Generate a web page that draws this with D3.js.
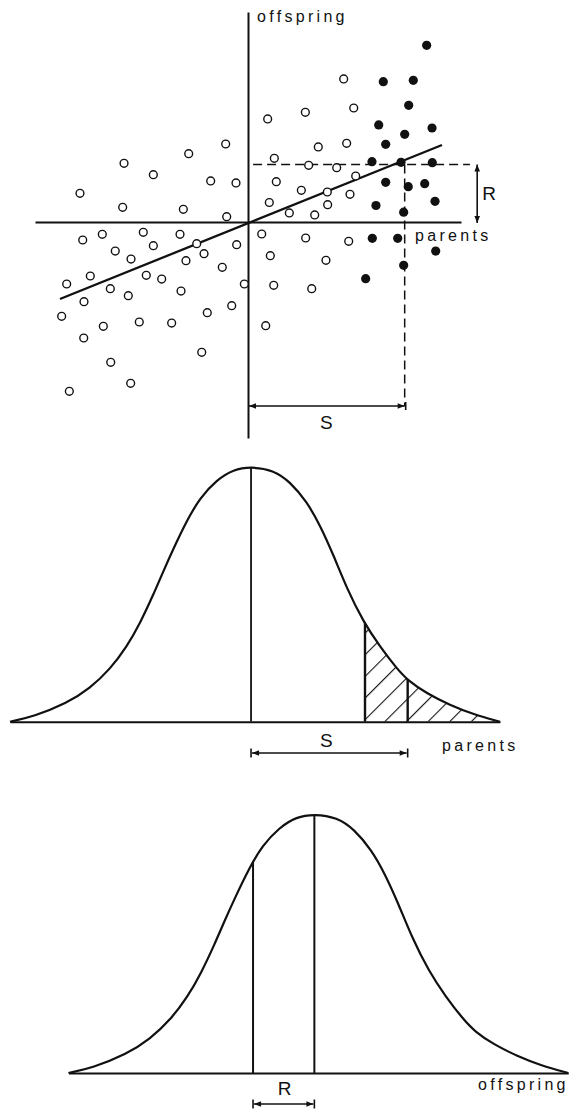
<!DOCTYPE html>
<html><head><meta charset="utf-8">
<script src="https://cdn.jsdelivr.net/npm/d3@7"></script>
<style>
html,body{margin:0;padding:0;background:#fff;}
svg{display:block;}
text{font-family:"Liberation Sans",Arial,sans-serif;fill:#111;}
</style>
</head><body>
<svg id="c" width="572" height="1113"></svg>
<script>
// ---------- DATA ----------
// Scatter: [parent value, offspring value] (units of trait SD)
const openDots = [
 [-0.262,0.975],[-0.696,0.854],[-1.455,0.734],[-1.111,0.591],[-0.438,0.513],[-0.141,0.488],
 [-1.972,0.359],[-1.471,0.184],[-0.759,0.159],[-0.250,0.066],[-1.229,-0.129],[-1.940,-0.225],
 [-1.710,-0.154],[-0.798,-0.154],[-0.602,-0.271],[-0.133,-0.284],[-1.558,-0.363],[-1.111,-0.296],
 [-1.373,-0.463],[-0.728,-0.484],[-0.516,-0.396],[-0.302,-0.566],[-2.128,-0.775],[-1.851,-0.675],
 [-1.194,-0.666],[-1.013,-0.713],[-1.616,-0.834],[-1.405,-0.921],[-0.786,-0.863],[-0.043,-0.775],
 [-1.925,-0.996],[-2.187,-1.179],[-1.698,-1.304],[-1.276,-1.250],[-0.896,-1.263],[-0.478,-1.134],
 [-0.191,-1.046],[-1.928,-1.450],[-0.543,-1.629],[-1.611,-1.754],[-1.377,-2.016],[-2.097,-2.116],
 [1.123,1.788],[0.673,1.371],[1.241,1.425],[0.231,1.288],[0.825,0.938],[1.158,0.984],
 [0.309,0.796],[0.712,0.709],[1.041,0.679],[1.264,0.575],[0.332,0.504],[0.626,0.396],
 [0.931,0.375],[1.197,0.346],[0.250,0.244],[0.935,0.216],[0.485,0.113],[0.783,0.088],
 [0.161,-0.150],[0.677,-0.200],[1.182,-0.241],[0.262,-0.421],[0.915,-0.479],[0.302,-0.791],
 [0.748,-0.834],[0.208,-1.296]
];
const selectedDots = [
 [2.097,2.209],[1.588,1.754],[1.940,1.771],[1.886,1.459],[1.534,1.213],[1.839,1.096],
 [2.160,1.175],[1.616,0.971],[1.455,0.754],[1.796,0.746],[2.163,0.741],[1.616,0.496],
 [1.881,0.441],[2.074,0.479],[2.195,0.259],[1.502,0.206],[1.827,0.123],[1.459,-0.204],
 [1.757,-0.204],[2.203,-0.363],[1.827,-0.541],[1.381,-0.709]
];
const regressionLine = [[-2.207,-0.9625],[2.277,0.9625]];
const S = 1.839;          // selection differential
const R = 0.72;           // response
const truncation = 1.338; // truncation point

// Parent distribution: [value, relative frequency]
const parentCurve = [
 [-2.830,0],[-2.556,0.020],[-2.164,0.072],[-1.890,0.131],[-1.655,0.206],[-1.459,0.294],
 [-1.303,0.386],[-1.147,0.498],[-1.030,0.590],[-0.909,0.680],[-0.755,0.788],[-0.599,0.878],
 [-0.403,0.948],[-0.207,0.989],[0,1],[0.262,0.987],[0.458,0.941],[0.654,0.863],
 [0.810,0.771],[0.967,0.654],[1.124,0.523],[1.319,0.392],[1.514,0.294],[1.710,0.209],
 [1.846,0.160],[2.062,0.111],[2.336,0.065],[2.609,0.029],[2.923,0]
];
// Offspring distribution: [value, relative frequency]
const offspringCurve = [
 [-2.167,0],[-1.887,0.020],[-1.487,0.072],[-1.208,0.131],[-0.968,0.206],[-0.768,0.294],
 [-0.609,0.386],[-0.450,0.498],[-0.331,0.590],[-0.207,0.680],[-0.050,0.788],[0.109,0.878],
 [0.309,0.948],[0.509,0.989],[0.720,1],[0.987,0.987],[1.187,0.941],[1.387,0.863],
 [1.546,0.771],[1.706,0.654],[1.866,0.523],[2.065,0.392],[2.264,0.294],[2.464,0.209],
 [2.603,0.160],[2.823,0.111],[3.103,0.065],[3.381,0.029],[3.701,0]
];
const axisLabels = ["offspring","parents","parents","offspring"];
const arrowLabels = ["S","R","S","R"];

// ---------- DRAW ----------
const ink = "#111";
const svg = d3.select("#c");
const defs = svg.append("defs");
defs.append("marker").attr("id","ah").attr("viewBox","0 0 10 10").attr("refX",10).attr("refY",5)
  .attr("markerWidth",9).attr("markerHeight",7).attr("markerUnits","userSpaceOnUse")
  .attr("orient","auto-start-reverse")
  .append("path").attr("d","M0,1 L10,5 L0,9 Z").attr("fill",ink);
const hatch = defs.append("pattern").attr("id","hatch").attr("patternUnits","userSpaceOnUse")
  .attr("width",15.3).attr("height",15.3).attr("x",1.5).attr("patternTransform","rotate(45)");
hatch.append("line").attr("x1",0).attr("y1",-2).attr("x2",0).attr("y2",18).attr("stroke",ink).attr("stroke-width",2.2);

function arrow(g, x1,y1,x2,y2){
  g.append("line").attr("x1",x1).attr("y1",y1).attr("x2",x2).attr("y2",y2)
   .attr("stroke",ink).attr("stroke-width",1.6)
   .attr("marker-start","url(#ah)").attr("marker-end","url(#ah)");
}
function bar(g,x,y,h){
  g.append("line").attr("x1",x).attr("x2",x).attr("y1",y-h/2).attr("y2",y+h/2).attr("stroke",ink).attr("stroke-width",1.6);
}
function label(g,txt,x,y,size,anchor,ls){
  g.append("text").attr("x",x).attr("y",y).attr("font-size",size).attr("text-anchor",anchor||"start")
   .attr("letter-spacing",ls||0).text(txt);
}

// ===== Scatter =====
const xS = d3.scaleLinear().domain([-2.5,2.5]).range([35,461]);
const yS = d3.scaleLinear().domain([-2.7,2.625]).range([438,12]);
const gs = svg.append("g");
gs.append("g").attr("transform",`translate(0,${yS(0)})`)
  .call(d3.axisBottom(xS).tickValues([]).tickSizeOuter(0))
  .call(a=>a.select(".domain").attr("stroke",ink).attr("stroke-width",2));
gs.append("g").attr("transform",`translate(${xS(0)},0)`)
  .call(d3.axisLeft(yS).tickValues([]).tickSizeOuter(0))
  .call(a=>a.select(".domain").attr("stroke",ink).attr("stroke-width",2));
// dashed guides
gs.append("line").attr("x1",xS(0.06)).attr("x2",xS(2.605)).attr("y1",yS(R)).attr("y2",yS(R))
  .attr("stroke",ink).attr("stroke-width",1.5).attr("stroke-dasharray","9,5");
gs.append("line").attr("x1",xS(S)).attr("x2",xS(S)).attr("y1",yS(R)).attr("y2",yS(-2.3))
  .attr("stroke",ink).attr("stroke-width",1.5).attr("stroke-dasharray","9,5");
// regression line
gs.append("path").attr("d",d3.line().x(d=>xS(d[0])).y(d=>yS(d[1]))(regressionLine))
  .attr("stroke",ink).attr("stroke-width",2.3).attr("fill","none");
// dots
gs.selectAll("circle.o").data(openDots).join("circle").attr("class","o")
  .attr("cx",d=>xS(d[0])).attr("cy",d=>yS(d[1])).attr("r",3.9)
  .attr("fill","#fff").attr("stroke",ink).attr("stroke-width",1.4);
gs.selectAll("circle.f").data(selectedDots).join("circle").attr("class","f")
  .attr("cx",d=>xS(d[0])).attr("cy",d=>yS(d[1])).attr("r",4.6).attr("fill",ink);
// arrows
arrow(gs, xS(0)+1, yS(-2.3), xS(S), yS(-2.3)); bar(gs, xS(S)+1, yS(-2.3), 8);
arrow(gs, xS(2.69), yS(R), xS(2.69), yS(0)+1);
label(gs, arrowLabels[0], xS(S/2), yS(-2.3)+23, 19, "middle");
label(gs, arrowLabels[1], xS(2.69)+5, yS(R/2)+7, 19, "start");
label(gs, axisLabels[0], xS(0)+9, 22, 16, "start", 3.3);
label(gs, axisLabels[1], 415, yS(0)+19, 16, "start", 3.3);

// ===== Parent distribution =====
const xM = d3.scaleLinear().domain([-2.83,2.923]).range([10,500]);
const yM = d3.scaleLinear().domain([0,1]).range([721.7,466.7]);
const gm = svg.append("g");
const areaM = d3.area().curve(d3.curveBasis).x(d=>xM(d[0])).y0(yM(0)).y1(d=>yM(d[1]));
const lineM = d3.line().curve(d3.curveBasis).x(d=>xM(d[0])).y(d=>yM(d[1]));
defs.append("clipPath").attr("id","clipM").append("path").attr("d",areaM(parentCurve));
const cm = gm.append("g").attr("clip-path","url(#clipM)");
cm.append("rect").attr("x",xM(truncation)).attr("y",yM(1)).attr("width",xM(2.923)-xM(truncation)+5)
  .attr("height",yM(0)-yM(1)).attr("fill","url(#hatch)");
[0, truncation, S].forEach((v,i)=>{
  cm.append("line").attr("x1",xM(v)).attr("x2",xM(v)).attr("y1",yM(0)).attr("y2",yM(1.05))
    .attr("stroke",ink).attr("stroke-width",i===0?1.8:2.4);
});
gm.append("g").attr("transform",`translate(0,${yM(0)})`)
  .call(d3.axisBottom(xM).tickValues([]).tickSizeOuter(0))
  .call(a=>a.select(".domain").attr("stroke",ink).attr("stroke-width",2));
gm.append("path").attr("d",lineM(parentCurve)).attr("fill","none").attr("stroke",ink).attr("stroke-width",2.2);
arrow(gm, xM(0)+1, 753, xM(S)-1, 753); bar(gm, xM(0), 753, 9); bar(gm, xM(S), 753, 9);
label(gm, arrowLabels[2], xM(S/2)-3, 747, 19, "middle");
label(gm, axisLabels[2], 442, 751, 16, "start", 3.3);

// ===== Offspring distribution =====
const xB = d3.scaleLinear().domain([-2.83,2.923]).range([12,502]);
const yB = d3.scaleLinear().domain([0,1]).range([1073,814]);
const gb = svg.append("g");
const areaB = d3.area().curve(d3.curveBasis).x(d=>xB(d[0])).y0(yB(0)).y1(d=>yB(d[1]));
const lineB = d3.line().curve(d3.curveBasis).x(d=>xB(d[0])).y(d=>yB(d[1]));
defs.append("clipPath").attr("id","clipB").append("path").attr("d",areaB(offspringCurve));
const cb = gb.append("g").attr("clip-path","url(#clipB)");
[0, R].forEach(v=>{
  cb.append("line").attr("x1",xB(v)).attr("x2",xB(v)).attr("y1",yB(0)).attr("y2",yB(1.05))
    .attr("stroke",ink).attr("stroke-width",2);
});
const xBaxis = d3.scaleLinear().domain([-2.167,3.701]).range([xB(-2.167),xB(3.701)]);
gb.append("g").attr("transform",`translate(0,${yB(0)})`)
  .call(d3.axisBottom(xBaxis).tickValues([]).tickSizeOuter(0))
  .call(a=>a.select(".domain").attr("stroke",ink).attr("stroke-width",2));
gb.append("path").attr("d",lineB(offspringCurve)).attr("fill","none").attr("stroke",ink).attr("stroke-width",2.2);
arrow(gb, xB(0)+1, 1104, xB(R)-1, 1104); bar(gb, xB(0), 1104, 9); bar(gb, xB(R), 1104, 9);
label(gb, arrowLabels[3], xB(R/2)+1, 1095, 19, "middle");
label(gb, axisLabels[3], 478, 1090, 16, "start", 3.3);
</script>
</body></html>
